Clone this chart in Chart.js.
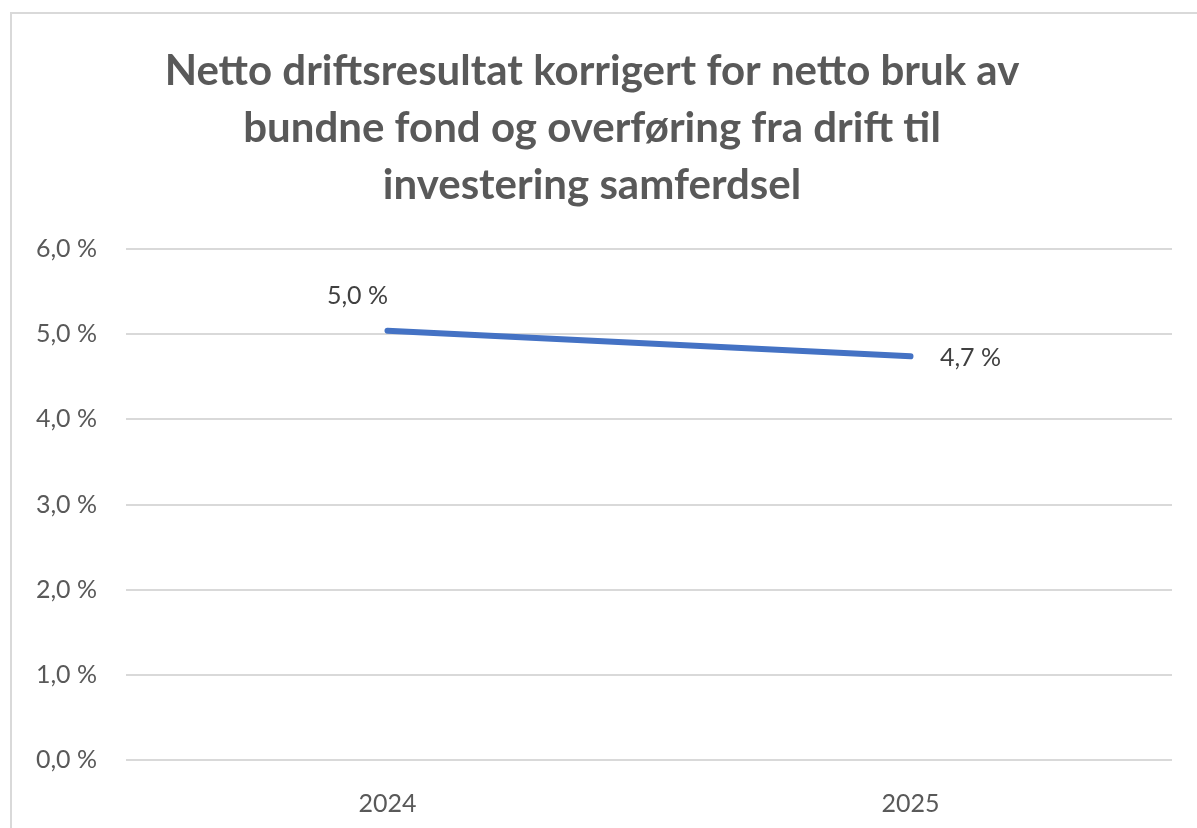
<!DOCTYPE html>
<html>
<head>
<meta charset="utf-8">
<script src="https://cdn.jsdelivr.net/npm/chart.js@4"></script>
<style>
    html, body { margin: 0; padding: 0; background: #fff; overflow: hidden; }
    #frame {
        position: absolute;
        left: 10px;
        top: 12px;
        width: 1200px;
        height: 830px;
        border: 2px solid #d9d9d9;
    }
    #wrap { position: relative; width: 1187px; height: 816px; }
</style>
</head>
<body>
<div id="frame"><div id="wrap"><canvas id="resultChart"></canvas></div></div>
<script>
const years = ['2024', '2025'];
const resultValues = [5.04, 4.74];
const yTicks = [0, 1, 2, 3, 4, 5, 6];
const titleLines = [
    'Netto driftsresultat korrigert for netto bruk av',
    'bundne fond og overføring fra drift til',
    'investering samferdsel'
];

const colors = {
    line: '#4472C4',
    text: '#595959',
    label: '#404040',
    grid: '#d9d9d9'
};
const fontFamily = "Lato, 'Open Sans', sans-serif";

const fmtPct = (v) => v.toFixed(1).replace('.', ',') + ' %';

// etiketter på punktene
const pointLabels = {
    id: 'pointLabels',
    afterDatasetsDraw(chart) {
        const ctx = chart.ctx;
        const meta = chart.getDatasetMeta(0);
        const offsets = [[-30, -35], [60, 2]];
        ctx.save();
        ctx.font = '25px ' + fontFamily;
        ctx.fillStyle = colors.label;
        ctx.textAlign = 'center';
        ctx.textBaseline = 'middle';
        meta.data.forEach((pt, i) => {
            const v = chart.data.datasets[0].data[i];
            ctx.fillText(fmtPct(v), pt.x + offsets[i][0], pt.y + offsets[i][1]);
        });
        ctx.restore();
    }
};

const ctxResult = document.getElementById('resultChart');
new Chart(ctxResult, {
    type: 'line',
    data: {
        labels: years,
        datasets: [{
            data: resultValues,
            borderColor: colors.line,
            borderWidth: 6,
            borderCapStyle: 'round',
            pointRadius: 0,
            pointHoverRadius: 0,
            tension: 0
        }]
    },
    options: {
        responsive: true,
        maintainAspectRatio: false,
        animation: false,
        layout: { padding: { left: 0, right: 27, top: 0, bottom: 0 } },
        plugins: {
            legend: { display: false },
            tooltip: { enabled: false },
            title: {
                display: true,
                text: titleLines,
                color: colors.text,
                font: { family: fontFamily, size: 42, weight: 'bold', lineHeight: '57px' },
                padding: { top: 29, bottom: 35 }
            }
        },
        scales: {
            x: {
                offset: true,
                grid: { display: false },
                border: { display: false },
                ticks: { color: colors.text, padding: 21, font: { family: fontFamily, size: 25 } },
                afterFit: (scale) => { scale.height = 70; }
            },
            y: {
                min: 0,
                max: 6,
                afterBuildTicks: (scale) => { scale.ticks = yTicks.map(v => ({ value: v })); },
                grid: { color: colors.grid, lineWidth: 2, drawTicks: false },
                border: { display: false },
                ticks: {
                    color: colors.text,
                    padding: 29,
                    font: { family: fontFamily, size: 25 },
                    callback: (v) => fmtPct(v)
                },
                afterFit: (scale) => { scale.width = 114; }
            }
        }
    },
    plugins: [pointLabels]
});
</script>
</body>
</html>
